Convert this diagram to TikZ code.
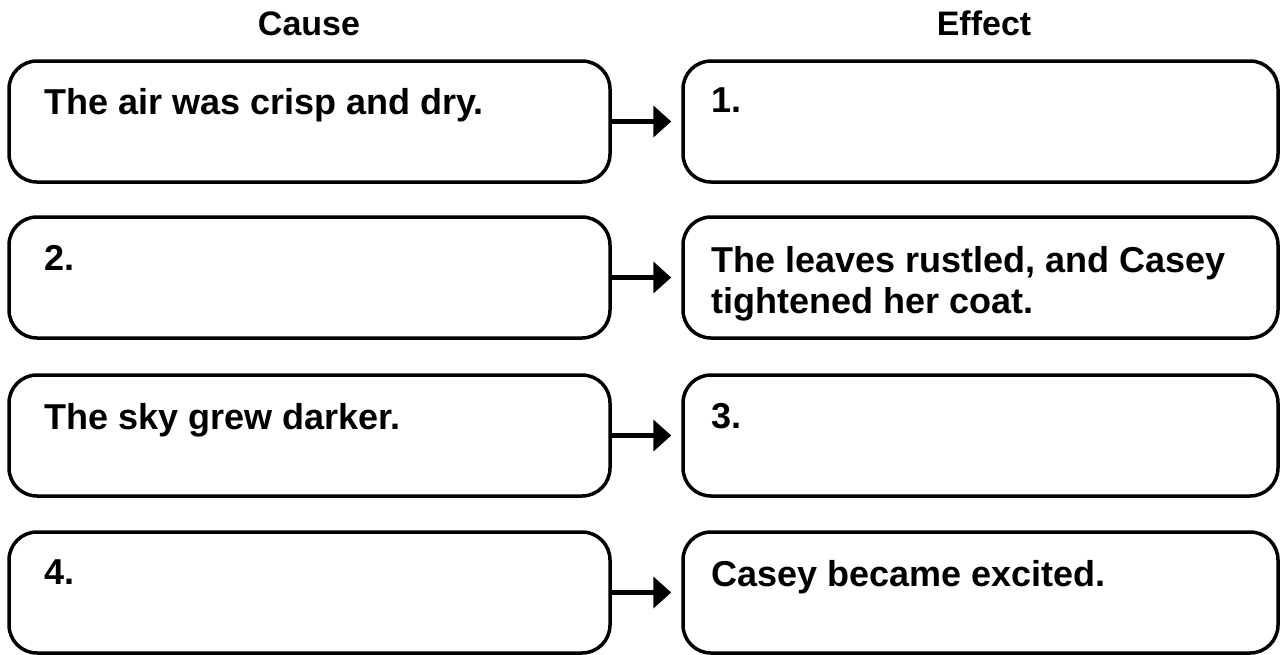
\documentclass[tikz,border=0pt]{standalone}
\usepackage{fontspec}
\setmainfont{Liberation Sans}
\usetikzlibrary{arrows.meta}
\begin{document}
\begin{tikzpicture}[x=1pt,y=-1pt,
  box/.style={draw, line width=3.5pt, rounded corners=28pt, minimum height=121pt, inner sep=0pt},
  causebox/.style={box, minimum width=601pt},
  effectbox/.style={box, minimum width=595pt},
  boxtext/.style={anchor=north west, inner sep=0pt, align=left, font=\fontsize{36}{41}\selectfont\bfseries},
  title/.style={anchor=base, inner sep=0pt, font=\fontsize{34}{39}\selectfont\bfseries},
  link/.style={line width=5pt, -{Triangle[length=18pt,width=31pt]}, shorten >=10pt}]
\useasboundingbox (0,0) rectangle (1283,654);
\node[title] (tc) at (309,35) {Cause};
\node[title] (te) at (984,35) {Effect};
% row 1
\node[causebox] (c1) at (309.5,121.5) {};
\node[effectbox] (e1) at (980.5,121.5) {};
\node[boxtext] (tc1) at (44,88) {The air was crisp and dry.};
\node[boxtext] (te1) at (711,88) {1.};
% row 2
\node[causebox] (c2) at (309.5,277.5) {};
\node[effectbox] (e2) at (980.5,277.5) {};
\node[boxtext] (tc2) at (44,245) {2.};
\node[boxtext] (te2) at (711,246) {The leaves rustled, and Casey\\tightened her coat.};
% row 3
\node[causebox] (c3) at (309.5,435.5) {};
\node[effectbox] (e3) at (980.5,435.5) {};
\node[boxtext] (tc3) at (44,403) {The sky grew darker.};
\node[boxtext] (te3) at (711,403) {3.};
% row 4
\node[causebox] (c4) at (309.5,592.5) {};
\node[effectbox] (e4) at (980.5,592.5) {};
\node[boxtext] (tc4) at (44,560) {4.};
\node[boxtext] (te4) at (711,560) {Casey became excited.};
% arrows
\foreach \i in {1,2,3,4} {
  \draw[link] (c\i.east) -- (e\i.west);
}
\end{tikzpicture}
\end{document}
